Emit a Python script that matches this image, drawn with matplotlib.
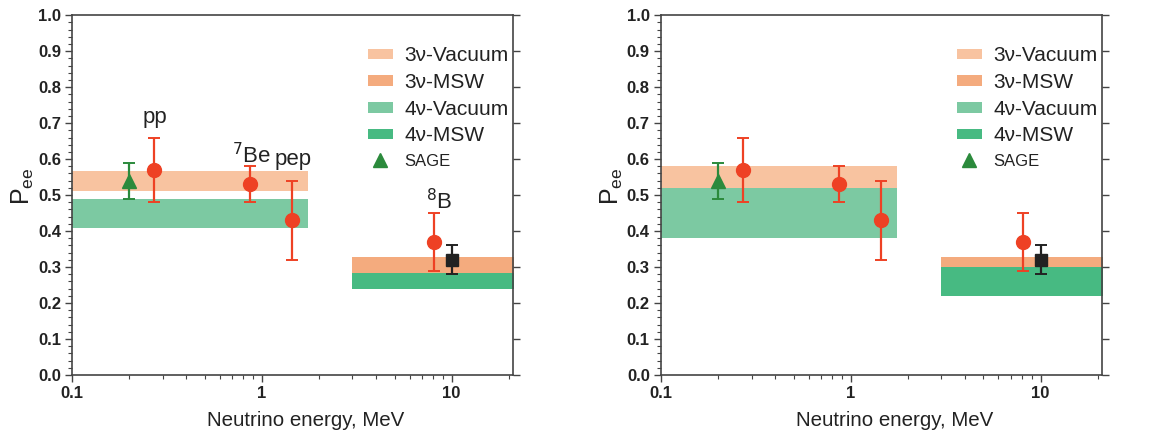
import numpy as np
import matplotlib
matplotlib.use("Agg")
import matplotlib.pyplot as plt
from matplotlib.ticker import MultipleLocator, FixedLocator, NullFormatter

plt.rcParams["font.family"] = ["Liberation Sans", "DejaVu Sans"]

# ── data ──────────────────────────────────────────────────────────────────────
band_names = ["3ν-Vacuum", "3ν-MSW", "4ν-Vacuum", "4ν-MSW"]
band_colors = ["#f8c3a0", "#f4ab7e", "#7cc9a2", "#47ba82"]

low_band_x = [0.1, 1.76]
high_band_x = [3.0, 25.0]

# (low, high) of each band, left and right panels
left_low_bands = {"3ν-Vacuum": (0.512, 0.567), "4ν-Vacuum": (0.408, 0.489)}
left_high_bands = {"3ν-MSW": (0.283, 0.328), "4ν-MSW": (0.240, 0.283)}
right_low_bands = {"3ν-Vacuum": (0.519, 0.581), "4ν-Vacuum": (0.381, 0.519)}
right_high_bands = {"3ν-MSW": (0.300, 0.328), "4ν-MSW": (0.220, 0.300)}

# solar data points (pp, 7Be, pep, 8B)
src_names = ["pp", "$^7$Be", "pep", "$^8$B"]
src_E = [0.27, 0.862, 1.44, 8.1]
src_P = [0.57, 0.53, 0.43, 0.37]
src_err = [0.09, 0.05, 0.11, 0.08]

sage_E, sage_P, sage_err = [0.2], [0.54], [0.05]
sq_E, sq_P, sq_err = [10.0], [0.32], [0.04]

label_pos = [(0.236, 0.70), (0.70, 0.59), (1.16, 0.585), (7.35, 0.46)]

fig = plt.figure(figsize=(11.6, 4.34), dpi=100)
ax_l = fig.add_axes([0.0621, 0.136, 0.380, 0.829])
ax_r = fig.add_axes([0.5698, 0.136, 0.380, 0.829])


def draw_panel(ax, low_bands, high_bands, labels):
    handles = {}
    for name, col in zip(band_names, band_colors):
        if name in low_bands:
            lo, hi = low_bands[name]
            h = ax.fill_between(low_band_x, lo, hi, color=col, lw=0, zorder=1)
            handles[name] = h
        if name in high_bands:
            lo, hi = high_bands[name]
            h = ax.fill_between(high_band_x, lo, hi, color=col, lw=0, zorder=1)
            handles[name] = h

    ax.errorbar(src_E, src_P, yerr=src_err, fmt="o", color="#ee4124",
                ms=10, capsize=4, elinewidth=1.6, capthick=1.4, zorder=3)
    sage = ax.errorbar(sage_E, sage_P, yerr=sage_err, fmt="^", color="#2b8a3c",
                       ms=10, capsize=4, elinewidth=1.6, capthick=1.4, zorder=3)
    ax.errorbar(sq_E, sq_P, yerr=sq_err, fmt="s", color="#222222",
                ms=8, capsize=4, elinewidth=1.6, capthick=1.4, zorder=3)

    if labels:
        for txt, (x, y) in zip(src_names, label_pos):
            ax.text(x, y, txt, fontsize=16, color="#222222")

    ax.set_xscale("log")
    ax.set_xlim(0.1, 21)
    ax.set_ylim(0, 1.0)
    ax.yaxis.set_major_locator(MultipleLocator(0.1))
    ax.yaxis.set_minor_locator(MultipleLocator(0.02))
    ax.xaxis.set_major_locator(FixedLocator([0.1, 1, 10]))
    ax.set_xticklabels(["0.1", "1", "10"])
    ax.xaxis.set_minor_formatter(NullFormatter())
    ax.yaxis.set_major_formatter(plt.FuncFormatter(lambda v, p: f"{v:.1f}"))
    ax.tick_params(which="both", direction="out", top=False, right=False,
                   color="#444444")
    ax.tick_params(which="major", length=5, width=1.0, labelsize=12, pad=3)
    ax.tick_params(which="minor", length=3, width=0.8)
    ax.tick_params(axis="y", which="major", right=True, labelright=False)
    for lab in ax.get_xticklabels() + ax.get_yticklabels():
        lab.set_fontweight("bold")
        lab.set_color("#222222")
    for sp in ax.spines.values():
        sp.set_color("#444444")
        sp.set_linewidth(1.2)

    ax.set_xlabel("Neutrino energy, MeV", fontsize=14.8, color="#222222")
    ax.xaxis.set_label_coords(0.53, -0.1, transform=ax.transAxes)
    ax.xaxis.label.set_va("top")
    ax.set_ylabel(r"$\mathregular{P_{ee}}$", fontsize=18, color="#222222")
    ax.yaxis.set_label_coords(-0.082, 0.525)

    leg_handles = [handles[n] for n in band_names] + [sage[0]]
    leg = ax.legend(leg_handles, band_names + ["SAGE"], loc="upper right",
                    bbox_to_anchor=(1.0, 0.925), frameon=False, fontsize=15,
                    handlelength=1.2, handleheight=0.4, labelspacing=0.37,
                    handletextpad=0.55, borderaxespad=0.0, borderpad=0.2)
    leg.get_texts()[-1].set_fontsize(12)
    for t in leg.get_texts():
        t.set_color("#222222")


draw_panel(ax_l, left_low_bands, left_high_bands, labels=True)
draw_panel(ax_r, right_low_bands, right_high_bands, labels=False)

fig.savefig("out.png", dpi=100)
